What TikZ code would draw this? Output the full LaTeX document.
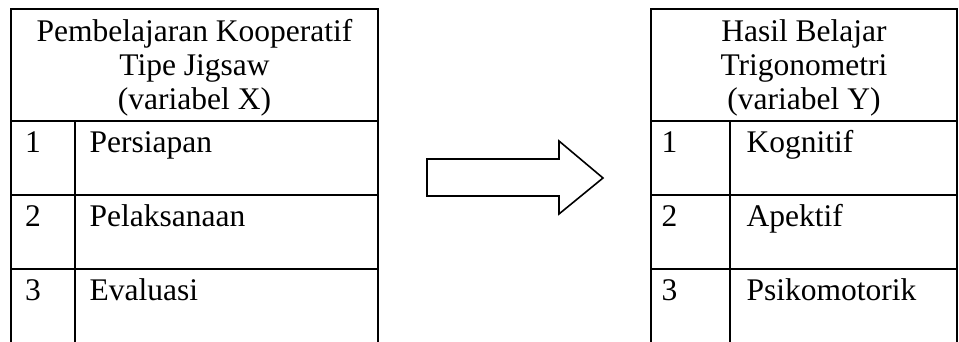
\documentclass[tikz,border=0pt]{standalone}
\usepackage{fontspec}
\setmainfont{Liberation Serif}
\begin{document}
\begin{tikzpicture}[x=1pt,y=-1pt,
  rule/.style={line width=2pt,line cap=rect},
  txt/.style={inner sep=0pt,font=\fontsize{31.5}{34}\selectfont},
  hdr/.style={txt,anchor=base},
  cell/.style={txt,anchor=base west},
  bigarrow/.style={line width=1.6pt,line join=miter}]
\useasboundingbox (0,0) rectangle (959,341);
% left table
\coordinate (LTL) at (11,9);
\coordinate (LTR) at (378,9);
\draw[rule] (11,342) -- (LTL) -- (LTR) -- (378,342);
\draw[rule] (11,121) -- (378,121);
\draw[rule] (11,195) -- (378,195);
\draw[rule] (11,269) -- (378,269);
\draw[rule] (75,121) -- (75,342);
\node[hdr] (lh1) at (194.5,41.7) {Pembelajaran Kooperatif};
\node[hdr] (lh2) at (194.5,75.5) {Tipe Jigsaw};
\node[hdr] (lh3) at (194.5,109.3) {(variabel X)};
\node[cell] (ln1) at (25,152) {1};
\node[cell] (lt1) at (89.5,152) {Persiapan};
\node[cell] (ln2) at (25,226) {2};
\node[cell] (lt2) at (89.5,226) {Pelaksanaan};
\node[cell] (ln3) at (25,300) {3};
\node[cell] (lt3) at (89.5,300) {Evaluasi};
% arrow
\draw[bigarrow] (427,159) -- (559,159) -- (559,141) -- (603,178) -- (559,214) -- (559,196) -- (427,196) -- cycle;
% right table
\draw[rule] (651,342) -- (651,9) -- (957,9) -- (957,342);
\draw[rule] (651,121) -- (957,121);
\draw[rule] (651,195) -- (957,195);
\draw[rule] (651,269) -- (957,269);
\draw[rule] (730,121) -- (730,342);
\node[hdr] (rh1) at (804,41.7) {Hasil Belajar};
\node[hdr] (rh2) at (804,75.5) {Trigonometri};
\node[hdr] (rh3) at (804,109.3) {(variabel Y)};
\node[cell] (rn1) at (661.5,152) {1};
\node[cell] (rt1) at (746.5,152) {Kognitif};
\node[cell] (rn2) at (661.5,226) {2};
\node[cell] (rt2) at (746.5,226) {Apektif};
\node[cell] (rn3) at (661.5,300) {3};
\node[cell] (rt3) at (746.5,300) {Psikomotorik};
\end{tikzpicture}
\end{document}
